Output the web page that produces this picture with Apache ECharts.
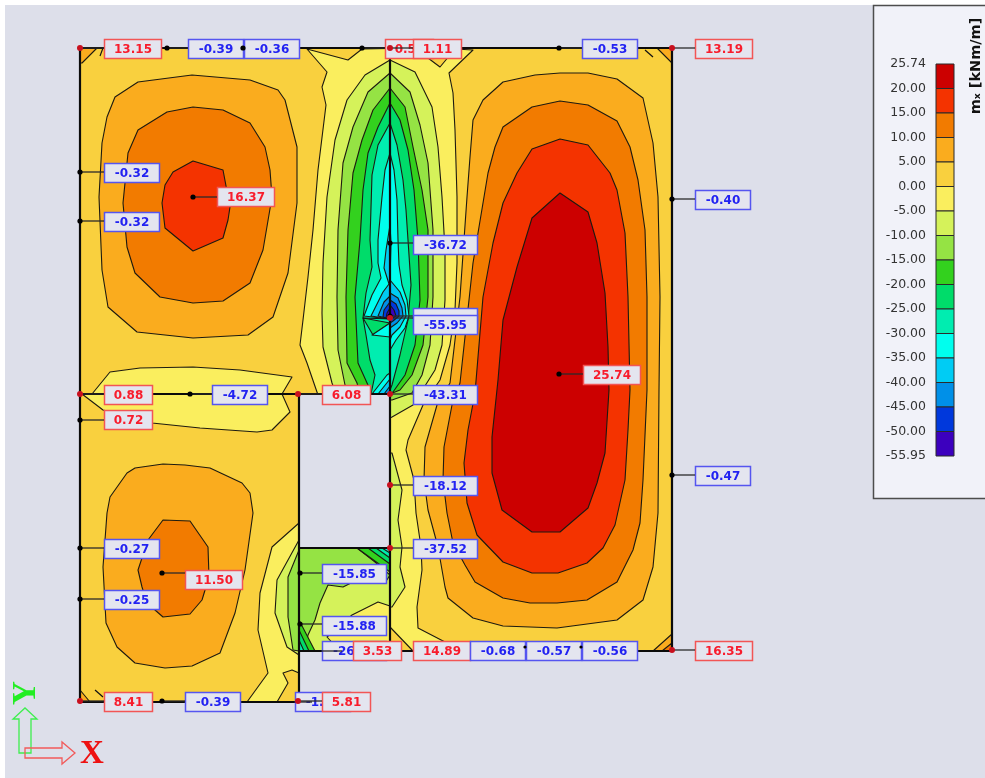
<!DOCTYPE html>
<html><head><meta charset="utf-8"><title>mx contour</title>
<style>html,body{margin:0;padding:0;background:#fff}#c{width:985px;height:778px}</style>
<script src="https://cdn.jsdelivr.net/npm/echarts@6/dist/echarts.min.js"></script></head>
<body><div id="c"></div>
<script>
// ---------- legend ----------
const legendTicks = ['25.74','20.00','15.00','10.00','5.00','0.00','-5.00','-10.00','-15.00','-20.00','-25.00','-30.00','-35.00','-40.00','-45.00','-50.00','-55.95'];
const bandColors = ['#CC0000','#F43300','#F27B00','#FAAC1E','#F9D03E','#FAEE5E','#D5F25A','#95E344','#33D11E','#00DC6A','#00EDB0','#00FFEE','#00CCF4','#0090E8','#0038DC','#3C00BE'];
// ---------- plan geometry (plan units) ----------
const slabOutline = [[80,48],[672,48],[672,651],[299,651],[299,702],[80,702]];
const slabHole = [[299,395],[390,395],[390,548],[299,548]];
const wallLines = [
  [[80,48],[672,48],[672,651],[299,651]],
  [[80,48],[80,702],[299,702],[299,394]],
  [[80,394],[390,394]],
  [[390,48],[390,651]],
  [[299,548],[390,548]]
];
// ---------- contour boundaries: upper left slab ----------
const tlLevel5 = [[192,75],[138,82],[115,97],[107,117],[102,143],[99,197],[102,270],[108,307],[137,332],[193,338],[248,335],[273,317],[288,273],[297,203],[297,147],[285,100],[278,90],[250,80]];
const tlLevel10 = [[193,107],[167,112],[138,130],[128,153],[123,203],[127,247],[135,273],[160,297],[193,303],[223,301],[250,283],[263,250],[272,197],[270,170],[265,147],[250,123],[223,110]];
const tlLevel15 = [[193,161],[173,172],[165,185],[162,203],[165,228],[193,251],[223,238],[228,220],[230,207],[223,170]];
const stripLevel0 = [[92,394],[110,372],[140,368],[193,367],[240,370],[292,377],[282,394],[290,412],[272,430],[257,432],[200,428],[152,423],[103,410],[82,394]];
// ---------- contour boundaries: lower left slab ----------
const blLevel5 = [[163,464],[135,468],[127,473],[110,497],[107,513],[103,567],[106,623],[117,647],[135,663],[165,668],[192,666],[220,653],[235,613],[245,570],[253,513],[250,493],[242,483],[210,468],[185,465]];
const blLevel10 = [[163,520],[190,521],[208,547],[209,577],[202,600],[190,614],[163,617],[147,603],[142,587],[138,570],[148,540]];
const blLevel0 = [[299,523],[272,547],[260,593],[258,630],[268,673],[247,702],[299,702]];
const blIsland5 = [[277,702],[288,683],[283,673],[292,670],[299,673],[299,702]];
const blLevelM5 = [[299,540],[277,580],[275,613],[287,647],[299,655]];
const blLevelM10 = [[299,550],[288,577],[288,617],[293,650],[299,651]];
// ---------- contour boundaries: right slab ----------
const rLevel5 = [[535,75],[560,73],[588,73],[617,79],[643,98],[653,143],[658,197],[660,297],[659,390],[658,513],[653,567],[643,600],[617,620],[557,628],[503,626],[473,618],[448,598],[445,587],[438,547],[428,510],[424,480],[425,447],[437,405],[450,383],[460,297],[467,197],[470,157],[473,120],[483,100],[503,82]];
const rLevel10 = [[560,101],[588,105],[617,121],[630,147],[638,180],[645,230],[647,297],[647,390],[643,480],[640,523],[633,550],[617,582],[587,600],[557,603],[530,603],[503,598],[475,582],[465,565],[453,543],[447,513],[443,480],[444,447],[452,405],[460,383],[473,263],[483,203],[488,173],[495,147],[503,127],[532,107]];
const rLevel15 = [[560,139],[588,145],[610,173],[617,190],[625,233],[628,297],[630,390],[628,430],[625,480],[615,525],[603,548],[587,563],[558,573],[532,573],[503,562],[477,535],[467,503],[464,463],[468,430],[475,393],[483,297],[493,243],[503,203],[517,173],[532,149]];
const rLevel20 = [[560,193],[588,212],[597,243],[605,293],[608,347],[609,390],[605,453],[597,483],[588,508],[560,532],[532,532],[502,510],[492,473],[492,437],[498,380],[503,320],[517,267],[532,218]];
// ---------- contour boundaries: central strip ----------
const midLevel0 = [[307,49],[348,60],[362,49],[415,48],[428,58],[440,67],[455,49],[473,50],[449,73],[453,93],[455,130],[457,197],[457,263],[455,310],[450,345],[440,380],[423,405],[408,440],[406,450],[414,480],[416,513],[421,547],[422,570],[417,607],[418,628],[445,642],[458,651],[390,651],[390,395],[318,395],[307,363],[300,345],[303,320],[308,277],[313,230],[318,170],[326,105],[322,87],[327,72]];
const leftM5 = [[390,60],[365,75],[347,100],[335,140],[327,197],[323,263],[322,313],[323,347],[332,383],[336,394],[390,394]];
const leftM10 = [[390,73],[368,92],[353,127],[343,163],[338,230],[337,297],[338,350],[345,385],[348,394],[390,394]];
const leftM15 = [[390,88],[373,110],[362,140],[353,173],[348,230],[346,297],[347,363],[357,383],[360,394],[390,394]];
const leftM20 = [[390,103],[378,127],[368,153],[363,190],[360,240],[355,297],[358,363],[372,394],[390,394]];
const leftM25 = [[390,123],[378,145],[372,175],[370,240],[372,267],[366,293],[363,318],[366,335],[370,360],[375,375],[371,394],[390,394]];
const leftM30 = [[390,153],[385,170],[382,197],[378,240],[378,263],[381,278],[372,295],[364,316],[390,319]];
const leftM35 = [[390,225],[386,250],[384,268],[389,284],[383,292],[375,308],[371,316],[390,319]];
const leftM40 = [[390,296],[384,302],[378,316],[390,319]];
const leftM45 = [[390,302],[384,310],[383,317],[390,319]];
const leftM50 = [[390,308],[387,313],[386,318],[390,319]];
const wedgeM20 = [[363,318],[373,335],[390,323]];
const wedgeM30 = [[372,335],[390,323],[390,337]];
const footM30 = [[372,394],[387,375],[390,373],[390,394]];
const footM35 = [[378,394],[390,379],[390,394]];
const footM40 = [[384,394],[390,386],[390,394]];
const rightM5 = [[390,60],[415,72],[432,107],[438,147],[442,197],[445,250],[445,300],[442,345],[435,370],[413,405],[392,417],[390,418]];
const rightM10 = [[390,73],[410,92],[420,125],[428,163],[433,230],[433,297],[430,345],[422,375],[412,393],[392,400],[390,400]];
const rightM15 = [[390,88],[405,107],[413,147],[422,190],[428,230],[428,297],[423,345],[412,375],[400,390],[390,394]];
const rightM20 = [[390,103],[400,120],[408,150],[414,190],[418,240],[420,300],[415,345],[405,375],[393,392],[390,393]];
const rightM25 = [[390,123],[397,145],[403,180],[406,210],[408,240],[411,285],[408,320],[400,355],[392,385],[390,390]];
const rightM30 = [[390,153],[394,170],[397,200],[398,240],[399,265],[402,285],[407,300],[409,316],[405,328],[396,340],[390,350]];
const rightM35 = [[390,225],[391,243],[390,280],[400,292],[405,305],[406,316],[400,327],[392,335],[390,340]];
const rightM40 = [[390,293],[398,298],[402,308],[403,316],[397,323],[390,328]];
const rightM45 = [[390,300],[396,304],[399,311],[399,316],[393,321],[390,323]];
const rightM50 = [[390,305],[394,310],[396,316],[391,319],[390,320]];
const wallSliver = [[392,453],[402,490],[398,520],[402,547],[400,567],[405,587],[392,607],[390,607],[390,453]];
// ---------- contour boundaries: small slab under the opening ----------
const panelM5 = [[299,548],[390,548],[390,651],[299,651]];
const panelM10 = [[299,548],[357,548],[375,562],[390,575],[385,583],[353,582],[343,587],[328,585],[320,603],[315,620],[308,635],[305,651],[299,651]];
const panelM15a = [[357,548],[390,572],[390,548]];
const panelM20a = [[368,548],[390,564],[390,548]];
const panelM25a = [[376,548],[390,558],[390,548]];
const panelM30a = [[382,548],[390,553],[390,548]];
const panelM15b = [[299,620],[315,651],[299,651]];
const panelM20b = [[299,630],[309,651],[299,651]];
const panelM25b = [[299,640],[304,651],[299,651]];
const panelLevel0 = [[390,606],[378,602],[352,615],[327,637],[340,651],[390,651]];
const wallFoot5 = [[390,627],[413,651],[390,651]];
// ---------- corner patches ----------
const cornerTL = [[80,48],[97,48],[82,63],[80,63]];
const cornerTR = [[657,48],[672,48],[672,63]];
const cornerBR5 = [[653,651],[672,634],[672,651]];
const cornerBR10 = [[662,651],[672,643],[672,651]];
const cornerBL = [[80,690],[90,702],[80,702]];
// paint order: [band index, boundary]
const contourList = [
  [4,slabOutline],[3,tlLevel5],[2,tlLevel10],[1,tlLevel15],[5,stripLevel0],
  [3,blLevel5],[2,blLevel10],[5,blLevel0],[4,blIsland5],[6,blLevelM5],[7,blLevelM10],
  [3,rLevel5],[2,rLevel10],[1,rLevel15],[0,rLevel20],
  [5,midLevel0],[6,wallSliver],
  [6,leftM5],[7,leftM10],[8,leftM15],[9,leftM20],[10,leftM25],[11,leftM30],[12,leftM35],[13,leftM40],[14,leftM45],[15,leftM50],
  [9,wedgeM20],[11,wedgeM30],[11,footM30],[12,footM35],[13,footM40],
  [6,rightM5],[7,rightM10],[8,rightM15],[9,rightM20],[10,rightM25],[11,rightM30],[12,rightM35],[13,rightM40],[14,rightM45],[15,rightM50],
  [6,panelM5],[7,panelM10],[8,panelM15a],[9,panelM20a],[10,panelM25a],[11,panelM30a],[8,panelM15b],[9,panelM20b],[10,panelM25b],[5,panelLevel0],[4,wallFoot5],
  [3,cornerTL],[3,cornerTR],[3,cornerBR5],[2,cornerBR10],[3,cornerBL]
];
// stray contour ticks near the corners
const contourTicks = [[[100,56],[103,48]],[[645,50],[653,57]],[[95,690],[103,697]],[[363,318],[390,319]]];
// ---------- value labels: text, node x, node y, box left, box top ----------
const labelTexts = ['13.15','-0.39','-0.36','0.53','1.11','-0.53','13.19','-0.32','-0.32','16.37','-0.40','-36.72','-55.95','-55.95','25.74','0.88','-4.72','6.08','-43.31','0.72','-18.12','-37.52','-15.85','-15.88','-26.40','3.53','14.89','-0.68','-0.57','-0.56','16.35','-0.47','-0.27','-0.25','11.50','8.41','-0.39','-1.20','5.81'];
const labelNodeX = [80,167,243,362,390,559,672,80,80,193,672,390,390,390,559,80,190,298,390,80,390,390,300,300,342,353,413,470,525,581,672,672,80,80,162,80,162,312,298];
const labelNodeY = [48,48,48,48,48,48,48,172,221,197,199,243,316,318,374,394,394,394,394,420,485,548,573,624,651,651,651,651,647,647,650,475,548,599,573,701,701,702,701];
const labelBoxX = [104,188,244,385,413,582,695,104,104,217,695,413,413,413,583,104,212,322,413,104,413,413,322,322,322,353,413,470,526,582,695,695,104,104,185,104,185,295,322];
const labelBoxY = [39,39,39,39,39,39,39,163,212,187,190,235,308,315,365,385,385,385,385,410,476,539,564,616,641,641,641,641,641,641,641,466,539,590,570,692,692,692,692];
const hiddenLabelText = [12];

function polyStyle(fill){return {fill:fill,stroke:'#1d1a10',lineWidth:1.1,lineJoin:'round'};}
function boxWidth(t){const n=t.replace('-','').length;return t[0]==='-'?(n===5?64:55):(n===5?57:48);}
const redNode = new Set(['13.15','13.19','0.88','6.08','8.41','5.81','16.35','1.11','-55.95','-18.12','-43.31','-37.52']);

const chart = echarts.init(document.getElementById('c'),null,{renderer:'canvas'});
chart.setOption({
  animation:false,
  backgroundColor:'#fff',
  graphic:[
    {type:'rect',z:-20,silent:true,shape:{x:5,y:5,width:980,height:773},style:{fill:'#DDDFEA'}},
    {type:'rect',z:-10,silent:true,shape:{x:873.5,y:5.5,width:120,height:493},style:{fill:'#F1F2F9',stroke:'#4d4d4d',lineWidth:1.5}},
    {type:'polygon',z:50,silent:true,shape:{points:[[19,753],[19,719],[13,719],[25,708],[37,719],[31,719],[31,753]]},style:{fill:'none',stroke:'#3FEF4F',lineWidth:1.3}},
    {type:'polygon',z:51,silent:true,shape:{points:[[25,748],[62,748],[62,742],[75,753],[62,764],[62,758],[25,758]]},style:{fill:'none',stroke:'#F25B5B',lineWidth:1.3}},
    {type:'text',z:52,silent:true,x:92,y:754,style:{text:'X',fill:'#EE1111',font:'bold 33px "Liberation Serif"',align:'center',verticalAlign:'middle'}},
    {type:'text',z:52,silent:true,x:26,y:693,rotation:Math.PI/2,style:{text:'Y',fill:'#22EE22',font:'bold 33px "Liberation Serif"',align:'center',verticalAlign:'middle'}},
    {type:'text',z:52,silent:true,x:976,y:66,rotation:Math.PI/2,style:{text:'m\u2093 [kNm/m]',fill:'#111',font:'bold 14.5px "DejaVu Sans"',align:'center',verticalAlign:'middle'}}
  ],
  grid:[
    {left:0,top:0,width:985,height:778,show:false},
    {left:936,top:64,width:18,height:392,show:false}
  ],
  xAxis:[
    {gridIndex:0,type:'value',min:0,max:985,show:false},
    {gridIndex:1,type:'value',min:0,max:1,show:false}
  ],
  yAxis:[
    {gridIndex:0,type:'value',min:0,max:778,inverse:true,show:false},
    {gridIndex:1,type:'value',min:0,max:16,interval:1,inverse:true,
     axisLine:{show:false},axisTick:{show:false},splitLine:{show:false},
     axisLabel:{show:true,margin:10,color:'#333',fontSize:12.5,fontFamily:'DejaVu Sans',padding:[4,0,0,0],formatter:v=>legendTicks[v]}}
  ],
  series:[
    {type:'custom',xAxisIndex:0,yAxisIndex:0,z:3,silent:true,clip:false,
     data:contourList.map((_,i)=>[i]),
     renderItem(p,api){const c=contourList[api.value(0)];
       return {type:'polygon',shape:{points:c[1].map(q=>api.coord(q))},style:polyStyle(bandColors[c[0]])};}},
    {type:'custom',xAxisIndex:0,yAxisIndex:0,z:4,silent:true,clip:false,data:[[0]],
     renderItem(p,api){return {type:'polygon',shape:{points:slabHole.map(q=>api.coord(q))},style:{fill:'#DDDFEA'}};}},
    {type:'custom',xAxisIndex:0,yAxisIndex:0,z:5,silent:true,clip:false,
     data:contourTicks.map((_,i)=>[i]),
     renderItem(p,api){return {type:'polyline',shape:{points:contourTicks[api.value(0)].map(q=>api.coord(q))},style:{stroke:'#111',lineWidth:1.2,fill:'none'}};}},
    {type:'custom',xAxisIndex:0,yAxisIndex:0,z:6,silent:true,clip:false,
     data:wallLines.map((_,i)=>[i]),
     renderItem(p,api){return {type:'polyline',shape:{points:wallLines[api.value(0)].map(q=>api.coord(q))},style:{stroke:'#0b0b0b',lineWidth:2.2,fill:'none',lineJoin:'miter'}};}},
    {type:'custom',xAxisIndex:0,yAxisIndex:0,z:7,silent:true,clip:false,
     data:labelTexts.map((_,i)=>[i]),
     renderItem(p,api){
       const i=api.value(0),t=labelTexts[i],neg=t[0]==='-';
       const n=api.coord([labelNodeX[i],labelNodeY[i]]),b=api.coord([labelBoxX[i],labelBoxY[i]]);
       const w=boxWidth(t),h=19,hidden=hiddenLabelText.includes(i);
       const ch=[];
       ch.push({type:'rect',shape:{x:b[0]+.5,y:b[1]+.5,width:w,height:h},style:{fill:'#E4E5EF',stroke:neg?'#5555F0':'#F25555',lineWidth:1.5}});
       if(!hidden)ch.push({type:'text',x:b[0]+w/2+.5,y:b[1]+h/2+1,style:{text:t,fill:neg?'#2222F2':'#F81C2C',font:'bold 12px "DejaVu Sans"',align:'center',verticalAlign:'middle'}});
       ch.push({type:'line',shape:{x1:n[0],y1:n[1],x2:b[0],y2:n[1]},style:{stroke:'#2a2a2a',lineWidth:1.3}});
       const red=redNode.has(t)&&i!==12;
       const between=labelNodeY[i]===647;
       if(n[0]<b[0]||between)ch.push({type:'circle',shape:{cx:n[0],cy:n[1],r:between?1.6:(red?3:2.6)},style:{fill:red?'#C8101E':'#000'}});
       return {type:'group',children:ch};
     }},
    {type:'custom',xAxisIndex:1,yAxisIndex:1,z:3,silent:true,clip:false,
     data:bandColors.map((_,i)=>[i]),
     renderItem(p,api){const i=api.value(0),a=api.coord([0,i]),b=api.coord([1,i+1]);
       return {type:'rect',shape:{x:a[0],y:a[1],width:b[0]-a[0],height:b[1]-a[1]},style:{fill:bandColors[i],stroke:'#2b2b2b',lineWidth:1}};}}
  ]
});
</script></body></html>
